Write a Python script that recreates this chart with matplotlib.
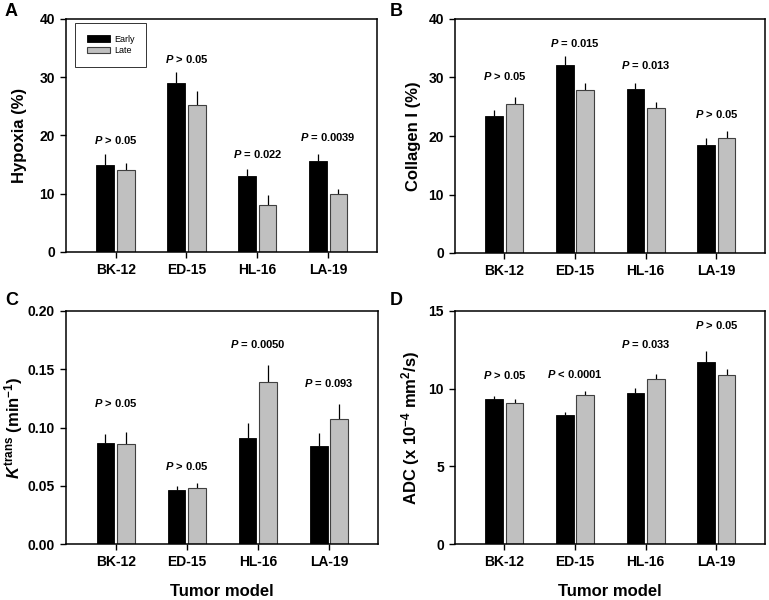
import matplotlib
matplotlib.use("Agg")
import matplotlib.pyplot as plt
import numpy as np

plt.rcParams['font.family'] = ['Liberation Sans', 'DejaVu Sans']
plt.rcParams['font.weight'] = 'bold'
plt.rcParams['mathtext.fontset'] = 'custom'
plt.rcParams['mathtext.rm'] = 'Liberation Sans:bold'
plt.rcParams['mathtext.it'] = 'Liberation Sans:italic:bold'
plt.rcParams['mathtext.bf'] = 'Liberation Sans:bold'

categories = ['BK-12', 'ED-15', 'HL-16', 'LA-19']

hyp_early = [15.0, 29.0, 13.0, 15.6]
hyp_early_err = [1.8, 1.9, 1.2, 1.3]
hyp_late = [14.0, 25.3, 8.0, 10.0]
hyp_late_err = [1.2, 2.3, 1.8, 0.9]
hyp_p = ['$P$ > 0.05', '$P$ > 0.05', '$P$ = 0.022', '$P$ = 0.0039']
hyp_p_y = [19.2, 33.1, 16.8, 19.7]

col_early = [23.5, 32.2, 28.1, 18.4]
col_early_err = [1.0, 1.5, 0.9, 1.3]
col_late = [25.5, 27.9, 24.8, 19.6]
col_late_err = [1.2, 1.1, 1.0, 1.2]
col_p = ['$P$ > 0.05', '$P$ = 0.015', '$P$ = 0.013', '$P$ > 0.05']
col_p_y = [30.2, 35.9, 32.1, 23.7]

k_early = [0.087, 0.046, 0.091, 0.084]
k_early_err = [0.007, 0.004, 0.013, 0.011]
k_late = [0.086, 0.048, 0.139, 0.107]
k_late_err = [0.010, 0.004, 0.015, 0.013]
k_p = ['$P$ > 0.05', '$P$ > 0.05', '$P$ = 0.0050', '$P$ = 0.093']
k_p_y = [0.121, 0.067, 0.172, 0.138]

adc_early = [9.35, 8.3, 9.75, 11.7]
adc_early_err = [0.2, 0.2, 0.3, 0.75]
adc_late = [9.1, 9.6, 10.6, 10.9]
adc_late_err = [0.25, 0.25, 0.35, 0.35]
adc_p = ['$P$ > 0.05', '$P$ < 0.0001', '$P$ = 0.033', '$P$ > 0.05']
adc_p_y = [10.86, 10.97, 12.9, 14.08]

W, H = 769, 600
fig = plt.figure(figsize=(W / 100, H / 100), dpi=100)


def px_axes(left, top, right, bottom):
    return fig.add_axes([left / W, 1 - bottom / H, (right - left) / W, (bottom - top) / H])


def panel(ax, early, eerr, late, lerr, ptxt, py, ylim, yticks, yticklabels, ylabel, ylx, xlabel=None):
    x = np.arange(len(categories))
    w = 0.25
    ax.bar(x - 0.145, early, w, color='black', edgecolor='black', linewidth=0.6, zorder=2, label='Early')
    ax.bar(x + 0.145, late, w, color='#c0c0c0', edgecolor='#404040', linewidth=0.8, zorder=2, label='Late')
    ax.errorbar(x - 0.145, early, yerr=[np.zeros(len(x)), eerr], fmt='none', ecolor='black',
                elinewidth=0.9, capsize=0, zorder=1)
    ax.errorbar(x + 0.145, late, yerr=[np.zeros(len(x)), lerr], fmt='none', ecolor='black',
                elinewidth=0.9, capsize=0, zorder=1)
    for xi, t, yv in zip(x, ptxt, py):
        ax.text(xi, yv, t, ha='center', va='center', fontsize=8, fontweight='bold')
    ax.set_xlim(-0.70, 3.69)
    ax.set_ylim(*ylim)
    ax.set_yticks(yticks)
    ax.set_yticklabels(yticklabels)
    ax.set_xticks(x)
    ax.set_xticklabels(categories)
    ax.tick_params(axis='both', direction='out', length=4.5, width=1.0, labelsize=10, pad=3.5)
    ax.tick_params(axis='x', pad=3.5)
    for s in ax.spines.values():
        s.set_linewidth(1.1)
    ax.set_ylabel(ylabel, fontsize=12, fontweight='bold')
    ax.yaxis.set_label_coords(ylx, 0.5)
    if xlabel:
        bb = ax.get_position()
        fig.text((bb.x0 + bb.x1) / 2, 1 - 591 / H, xlabel, fontsize=12, fontweight='bold',
                 ha='center', va='center')
    for lab in ax.get_xticklabels() + ax.get_yticklabels():
        lab.set_fontweight('bold')


axA = px_axes(66, 19, 377, 252)
panel(axA, hyp_early, hyp_early_err, hyp_late, hyp_late_err, hyp_p, hyp_p_y,
      (0, 40), [0, 10, 20, 30, 40], ['0', '10', '20', '30', '40'], 'Hypoxia (%)', -0.125)
leg = axA.legend(loc='upper left', bbox_to_anchor=(0.029, 0.983), frameon=True, fancybox=False,
                 edgecolor='black', prop={'weight': 'normal', 'size': 6.5},
                 handlelength=2.6, handleheight=0.7, borderpad=1.3, labelspacing=0.3,
                 handletextpad=0.4, borderaxespad=0)
leg.get_frame().set_linewidth(0.7)

axB = px_axes(455, 19, 765, 253)
panel(axB, col_early, col_early_err, col_late, col_late_err, col_p, col_p_y,
      (0, 40), [0, 10, 20, 30, 40], ['0', '10', '20', '30', '40'], 'Collagen I (%)', -0.110)

axC = px_axes(66, 311, 378, 544)
panel(axC, k_early, k_early_err, k_late, k_late_err, k_p, k_p_y,
      (0, 0.20), [0, 0.05, 0.10, 0.15, 0.20], ['0.00', '0.05', '0.10', '0.15', '0.20'],
      r'$K^{\mathrm{trans}}$ (min$^{-1}$)', -0.131, 'Tumor model')

axD = px_axes(455, 311, 765, 544)
panel(axD, adc_early, adc_early_err, adc_late, adc_late_err, adc_p, adc_p_y,
      (0, 15), [0, 5, 10, 15], ['0', '5', '10', '15'],
      r'ADC (x 10$^{-4}$ mm$^2$/s)', -0.106, 'Tumor model')

for lbl, xp, yp in [('A', 5, 3), ('B', 390, 3), ('C', 5, 292), ('D', 390, 292)]:
    fig.text(xp / W, 1 - yp / H, lbl, fontsize=13, fontweight='bold', ha='left', va='top')

fig.savefig('out.png', dpi=100)
